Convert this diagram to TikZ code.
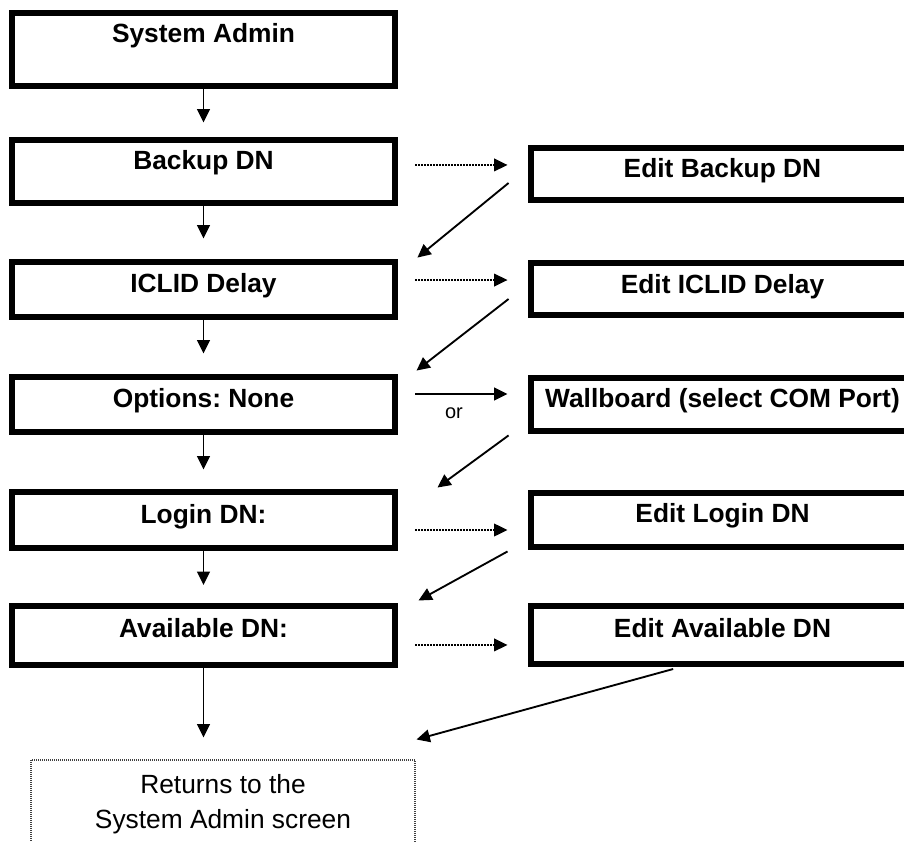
\documentclass[tikz,border=0pt]{standalone}
\usepackage{fontspec}
\setmainfont{Liberation Sans}
\usetikzlibrary{arrows.meta}
\frenchspacing
\begin{document}
\begin{tikzpicture}[x=0.75pt,y=-0.75pt,
  box/.style={draw, line width=4.2pt, minimum width=287.5pt, inner sep=0pt},
  lbl/.style={font=\fontsize{19.75}{23}\selectfont\bfseries, anchor=base, inner sep=0pt},
  txt/.style={font=\fontsize{19.75}{26.25}\selectfont, inner sep=0pt},
  tipstyle/.style={-{Triangle[length=10pt,width=9.5pt]}},
  arr/.style={line width=1.4pt, tipstyle},
  dotarr/.style={line width=1pt, dash pattern=on 1pt off 1.25pt, tipstyle},
]
\useasboundingbox (0,0) rectangle (904,842);
\clip (0,0) rectangle (904,842);

% left column
\node[box, minimum height=55pt]   (sa) at (203.5,49.5) {};
\node[box, minimum height=47.5pt] (bk) at (203.5,171.5) {};
\node[box, minimum height=41.5pt] (ic) at (203.5,289.5) {};
\node[box, minimum height=41.5pt] (op) at (203.5,404.5) {};
\node[box, minimum height=42.3pt] (lg) at (203.5,520) {};
\node[box, minimum height=44.5pt] (av) at (203.5,635.5) {};

% right column
\node[box, minimum height=39.3pt] (eb) at (722.5,174) {};
\node[box, minimum height=39.3pt] (ei) at (722.5,289) {};
\node[box, minimum height=40pt]   (wb) at (722.5,404.5) {};
\node[box, minimum height=40.8pt] (el) at (722.5,520) {};
\node[box, minimum height=43.8pt] (ea) at (722.5,635) {};

% final dotted box
\node[draw=black!75, line width=0.8pt, dash pattern=on 0.75pt off 0.75pt,
      minimum width=288pt, minimum height=75pt, inner sep=0pt] (ret) at (223,810) {};

% texts
\node[lbl] (tsa) at (203.5,43)  {System Admin};
\node[lbl] (tbk) at (203.5,170) {Backup DN};
\node[lbl] (tic) at (203.5,292) {ICLID Delay};
\node[lbl] (top) at (203.5,407) {Options: None};
\node[lbl] (tlg) at (203.5,523) {Login DN:};
\node[lbl] (tav) at (203.5,637) {Available DN:};
\node[lbl] (teb) at (722.5,177) {Edit Backup DN};
\node[lbl] (tei) at (722.5,293) {Edit ICLID Delay};
\node[lbl] (twb) at (722.5,407) {Wallboard (select COM Port)};
\node[lbl] (tel) at (722.5,522) {Edit Login DN};
\node[lbl] (tea) at (722.5,637) {Edit Available DN};
\node[txt, anchor=base, align=center] (tret) at (223,828) {Returns to the\\System Admin screen};
\node[font=\fontsize{15}{18}\selectfont, anchor=base, inner sep=0pt] (or) at (454,418) {or};

% vertical arrows
\draw[arr, shorten >=10.9pt] (sa) -- (bk);
\draw[arr, shorten >=15.4pt] (bk) -- (ic);
\draw[arr, shorten >=15.4pt] (ic) -- (op);
\draw[arr, shorten >=14.6pt] (op) -- (lg);
\draw[arr, shorten >=13.5pt] (lg) -- (av);
\draw[arr, shorten >=16.5pt] (av.south) -- (av.south |- ret.north);

% horizontal arrows
\draw[dotarr, shorten <=13.1pt, shorten >=15.4pt] ([yshift=4.9pt]bk.east) -- ([yshift=4.9pt]bk.east -| eb.west);
\draw[dotarr, shorten <=13.1pt, shorten >=15.4pt] ([yshift=7.1pt]ic.east) -- ([yshift=7.1pt]ic.east -| ei.west);
\draw[arr,    shorten <=13.1pt, shorten >=15.4pt] ([yshift=7.9pt]op.east) -- ([yshift=7.9pt]op.east -| wb.west);
\draw[dotarr, shorten <=13.1pt, shorten >=15.4pt] ([yshift=-7.5pt]lg.east) -- ([yshift=-7.5pt]lg.east -| el.west);
\draw[dotarr, shorten <=13.1pt, shorten >=15.4pt] ([yshift=-7.1pt]av.east) -- ([yshift=-7.1pt]av.east -| ea.west);

% diagonal return arrows
\draw[arr] ([xshift=-14.6pt,yshift=-6.75pt]eb.west) -- ([xshift=14.6pt,yshift=1.1pt]ic.north east);
\draw[arr] ([xshift=-14.6pt,yshift=-7.5pt]ei.west) -- ([xshift=13.9pt,yshift=2.6pt]op.north east);
\draw[arr] ([xshift=-14.6pt,yshift=-1.1pt]wb.south west) -- ([xshift=29.6pt,yshift=1.1pt]lg.north east);
\draw[arr] ([xshift=-15.4pt,yshift=-1.1pt]el.south west) -- ([xshift=15.4pt,yshift=1.9pt]av.north east);
\draw[arr] ([xshift=-37pt,yshift=-1.5pt]ea.south) -- ([xshift=0.75pt,yshift=15pt]ret.north east);
\end{tikzpicture}
\end{document}
